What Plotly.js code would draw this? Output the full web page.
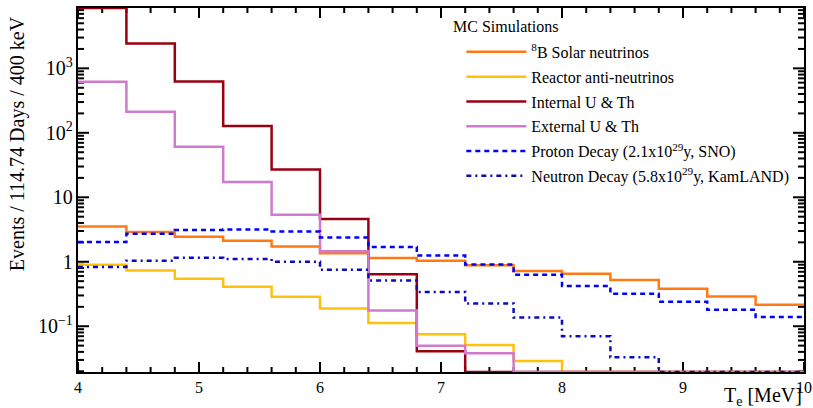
<!DOCTYPE html>
<html>
<head>
<meta charset="utf-8">
<script src="https://cdn.plot.ly/plotly-3.0.1.min.js"></script>
<style>html,body{margin:0;padding:0;background:#fff;}#chart{width:813px;height:408px;}</style>
</head>
<body>
<div id="chart"></div>
<script>
// Bin edges in T_e [MeV] (400 keV bins)
var binEdges = [4.0, 4.4, 4.8, 5.2, 5.6, 6.0, 6.4, 6.8, 7.2, 7.6, 8.0, 8.4, 8.8, 9.2, 9.6, 10.0];

// Events / 114.74 days / 400 keV per bin (0 = empty bin)
var solarB8   = [3.52, 2.89, 2.44, 2.12, 1.73, 1.36, 1.14, 1.04, 0.88, 0.72, 0.65, 0.52, 0.38, 0.29, 0.215];
var reactor   = [0.90, 0.73, 0.545, 0.41, 0.286, 0.189, 0.112, 0.075, 0.051, 0.029, 0, 0, 0, 0, 0];
var internalUTh = [8600, 2420, 624, 127, 27, 4.6, 0.64, 0.041, 0, 0, 0, 0, 0, 0, 0];
var externalUTh = [620, 212, 61, 17.2, 5.35, 1.46, 0.176, 0.050, 0.038, 0, 0, 0, 0, 0, 0];
var protonDecay  = [2.02, 2.72, 3.1, 3.17, 2.95, 2.38, 1.69, 1.25, 0.91, 0.63, 0.42, 0.32, 0.24, 0.18, 0.139];
var neutronDecay = [0.83, 1.04, 1.15, 1.10, 1.0, 0.75, 0.51, 0.34, 0.225, 0.137, 0.070, 0.033, 0, 0, 0];

var seriesNames = [
  '<sup>8</sup>B Solar neutrinos',
  'Reactor anti-neutrinos',
  'Internal U &amp; Th',
  'External U &amp; Th',
  'Proton Decay (2.1x10<sup>29</sup>y, SNO)',
  'Neutron Decay (5.8x10<sup>29</sup>y, KamLAND)'
];

var xRange = [4, 10];
var yLogRange = [-1.71, 3.936];
var floorVal = Math.pow(10, yLogRange[0]);

function stepY(vals) {
  var y = vals.map(function (v) { return v > 0 ? v : floorVal; });
  y.push(y[y.length - 1]);
  return y;
}

var styles = [
  {color: '#ff7a14', dash: 'solid'},
  {color: '#ffc10a', dash: 'solid'},
  {color: '#990010', dash: 'solid'},
  {color: '#cf7acf', dash: 'solid'},
  {color: '#0000ff', dash: '5px,4px'},
  {color: '#0a0ac0', dash: '5px,4px,2px,4px'}
];
var allSeries = [solarB8, reactor, internalUTh, externalUTh, protonDecay, neutronDecay];

// Plot-area size (px) used to size the ROOT-style inward frame ticks
var plotW = 813 - 78 - 9, plotH = 408 - 8 - 36;
var pxPerX = plotW / (xRange[1] - xRange[0]);
var pxPerDec = plotH / (yLogRange[1] - yLogRange[0]);

var tx = [], ty = [];
for (var k = 0; k <= 30; k++) {
  var xv = xRange[0] + k * 0.2;
  var xl = ((k % 5 === 0) ? 10 : 5) / pxPerDec;
  tx.push(xv, xv, null, xv, xv, null);
  ty.push(Math.pow(10, yLogRange[0]), Math.pow(10, yLogRange[0] + xl), null,
          Math.pow(10, yLogRange[1]), Math.pow(10, yLogRange[1] - xl), null);
}
for (var d = -2; d <= 3; d++) {
  for (var m = 1; m <= 9; m++) {
    var yv = m * Math.pow(10, d);
    var lv = Math.log10(yv);
    if (lv < yLogRange[0] || lv > yLogRange[1]) continue;
    var yl = ((m === 1) ? 11 : 6) / pxPerX;
    tx.push(xRange[0], xRange[0] + yl, null, xRange[1], xRange[1] - yl, null);
    ty.push(yv, yv, null, yv, yv, null);
  }
}

var traces = [{
  type: 'scatter', mode: 'lines', x: tx, y: ty, name: 'frame ticks',
  showlegend: false, hoverinfo: 'skip', connectgaps: false,
  line: {color: 'black', width: 2}
}];

allSeries.forEach(function (vals, i) {
  traces.push({
    type: 'scatter',
    mode: 'lines',
    x: binEdges,
    y: stepY(vals),
    name: seriesNames[i],
    legendgroup: 'g' + i,
    line: {shape: 'hv', color: styles[i].color, width: 2.5, dash: styles[i].dash},
    hoverinfo: 'skip'
  });
});

var serif = 'Liberation Serif';

var layout = {
  width: 813,
  height: 408,
  margin: {l: 78, r: 9, t: 8, b: 36},
  paper_bgcolor: '#ffffff',
  plot_bgcolor: '#ffffff',
  font: {family: serif, size: 16, color: '#000'},
  showlegend: true,
  legend: {
    x: 0.528, y: 0.926, xanchor: 'left', yanchor: 'top',
    bgcolor: 'rgba(0,0,0,0)', borderwidth: 0,
    font: {family: serif, size: 16, color: '#000'},
    tracegroupgap: 1,
    itemwidth: 60
  },
  xaxis: {
    range: xRange,
    dtick: 1,
    tick0: 4,
    ticks: '',
    mirror: true,
    showline: true,
    linewidth: 2,
    linecolor: 'black',
    showgrid: false,
    zeroline: false,
    tickfont: {family: serif, size: 16, color: '#000'}
  },
  yaxis: {
    type: 'log',
    range: yLogRange,
    dtick: 1,
    exponentformat: 'power',
    ticks: '',
    mirror: true,
    showline: true,
    linewidth: 2,
    linecolor: 'black',
    showgrid: false,
    zeroline: false,
    tickfont: {family: serif, size: 16, color: '#000'}
  },
  annotations: [
    {
      text: 'MC Simulations',
      xref: 'paper', yref: 'paper',
      x: (451 - 78) / 726, y: (372 - 26) / 364,
      xanchor: 'left', yanchor: 'middle',
      showarrow: false,
      font: {family: serif, size: 16, color: '#000'}
    },
    {
      text: 'Events / 114.74 Days / 400 keV',
      xref: 'paper', yref: 'paper',
      x: -0.083, y: 0.628,
      xanchor: 'center', yanchor: 'middle',
      textangle: -90,
      showarrow: false,
      font: {family: serif, size: 20, color: '#000'}
    },
    {
      text: 'T<sub>e</sub> [MeV]',
      xref: 'paper', yref: 'paper',
      x: 1.0, y: -0.068,
      xanchor: 'right', yanchor: 'middle',
      showarrow: false,
      font: {family: serif, size: 20, color: '#000'}
    }
  ]
};

Plotly.newPlot('chart', traces, layout, {staticPlot: true, displayModeBar: false});
</script>
</body>
</html>
